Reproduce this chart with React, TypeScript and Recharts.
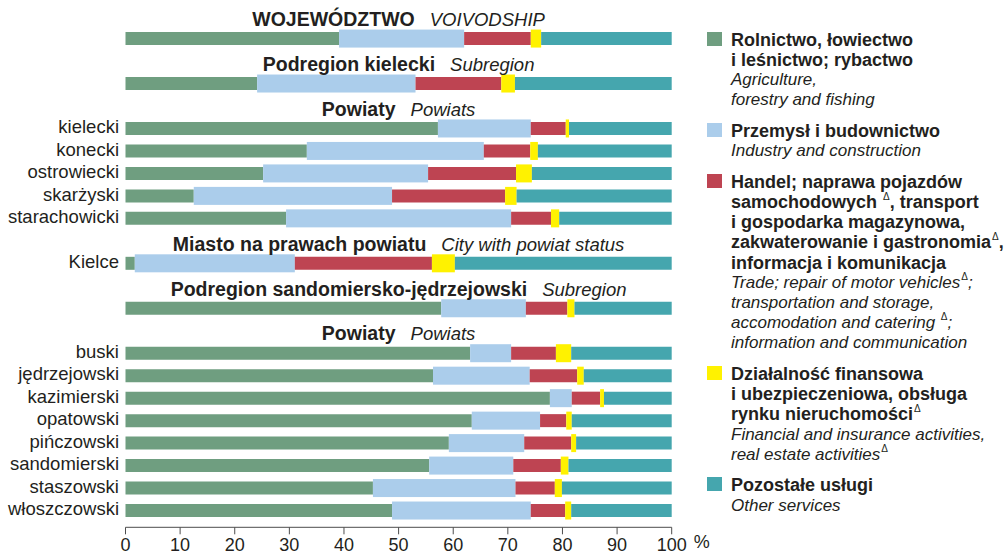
import { BarChart, Bar, XAxis, YAxis, Label } from "recharts";

// rows from top to bottom; header rows carry no values
const rowKeys = [
  "hdr-woj", "woj", "hdr-pk", "pk", "hdr-pow1",
  "kielecki", "konecki", "ostrowiecki", "skarżyski", "starachowicki",
  "hdr-miasto", "Kielce", "hdr-ps", "ps", "hdr-pow2",
  "buski", "jędrzejowski", "kazimierski", "opatowski", "pińczowski",
  "sandomierski", "staszowski", "włoszczowski",
];

const rowLabels = [
  "", "", "", "", "",
  "kielecki", "konecki", "ostrowiecki", "skarżyski", "starachowicki",
  "", "Kielce", "", "", "",
  "buski", "jędrzejowski", "kazimierski", "opatowski", "pińczowski",
  "sandomierski", "staszowski", "włoszczowski",
];

const headerMain = [
  "WOJEWÓDZTWO", "", "Podregion kielecki", "", "Powiaty",
  "", "", "", "", "",
  "Miasto na prawach powiatu", "", "Podregion sandomiersko-jędrzejowski", "", "Powiaty",
  "", "", "", "", "", "", "", "",
];

const headerSub = [
  "VOIVODSHIP", "", "Subregion", "", "Powiats",
  "", "", "", "", "",
  "City with powiat status", "", "Subregion", "", "Powiats",
  "", "", "", "", "", "", "", "",
];

const agriculture = [null, 39.1, null, 24.1, null, 57.2, 33.2, 25.2, 12.5, 29.4, null, 1.7, null, 57.8, null, 63.1, 56.3, 77.7, 63.4, 59.2, 55.6, 45.3, 48.8];
const industry = [null, 22.9, null, 29.0, null, 17.0, 32.4, 30.2, 36.3, 41.2, null, 29.3, null, 15.5, null, 7.5, 17.7, 4.0, 12.5, 13.8, 15.4, 26.1, 25.4];
const trade = [null, 12.2, null, 15.7, null, 6.4, 8.5, 16.1, 20.7, 7.3, null, 25.1, null, 7.6, null, 8.2, 8.7, 5.2, 4.8, 8.6, 8.7, 7.2, 6.3];
const finance = [null, 1.9, null, 2.5, null, 0.6, 1.4, 2.9, 2.1, 1.5, null, 4.2, null, 1.3, null, 2.8, 1.2, 0.7, 1.0, 0.9, 1.4, 1.3, 1.1];
const other = [null, 23.9, null, 28.7, null, 18.8, 24.5, 25.6, 28.4, 20.6, null, 39.7, null, 17.8, null, 18.4, 16.1, 12.4, 18.3, 17.5, 18.9, 20.1, 18.4];

const xTicks = [0, 10, 20, 30, 40, 50, 60, 70, 80, 90, 100];

const GREEN = "#6f9e80";
const BLUE = "#abcdeb";
const RED = "#be4452";
const YELLOW = "#fff200";
const TEAL = "#45a6ae";
const TEXT = "#231f20";
const FONT = "'Liberation Sans', Arial, sans-serif";

const PLOT_LEFT = 125.5;
const PLOT_WIDTH = 546.2;

const legendItems = [
  {
    color: GREEN,
    bold: ["Rolnictwo, łowiectwo", "i leśnictwo; rybactwo"],
    italic: ["Agriculture,", "forestry and fishing"],
  },
  {
    color: BLUE,
    bold: ["Przemysł i budownictwo"],
    italic: ["Industry and construction"],
  },
  {
    color: RED,
    bold: [
      "Handel; naprawa pojazdów",
      "samochodowych Δ, transport",
      "i gospodarka magazynowa,",
      "zakwaterowanie i gastronomiaΔ,",
      "informacja i komunikacja",
    ],
    italic: [
      "Trade; repair of motor vehiclesΔ;",
      "transportation and storage,",
      "accomodation and catering Δ;",
      "information and communication",
    ],
  },
  {
    color: YELLOW,
    bold: ["Działalność finansowa", "i ubezpieczeniowa, obsługa", "rynku nieruchomościΔ"],
    italic: ["Financial and insurance activities,", "real estate activitiesΔ"],
  },
  {
    color: TEAL,
    bold: ["Pozostałe usługi"],
    italic: ["Other services"],
  },
];

const data = rowKeys.map((key, i) => ({
  key,
  agriculture: agriculture[i],
  industry: industry[i],
  trade: trade[i],
  finance: finance[i],
  other: other[i],
}));

// blue and yellow segments are drawn a bit taller than the rest
function TallBar(props: any) {
  const { x, y, width, height, fill } = props;
  if (!width || !height) return null;
  return <rect x={x} y={y - 2.5} width={width} height={height + 5} fill={fill} />;
}

function RowTick(props: any) {
  const { x, y, payload } = props;
  const i = rowKeys.indexOf(payload.value);
  if (headerMain[i]) {
    return (
      <text x={PLOT_LEFT + PLOT_WIDTH / 2} y={y} dy={10} textAnchor="middle" fill={TEXT} fontFamily={FONT}>
        <tspan fontWeight="bold" fontSize={19.5}>{headerMain[i]}</tspan>
        <tspan fontStyle="italic" fontSize={18.5} dx={15}>{headerSub[i]}</tspan>
      </text>
    );
  }
  return (
    <text x={x} y={y} dy={5} textAnchor="end" fill={TEXT} fontFamily={FONT} fontSize={18.5}>
      {rowLabels[i]}
    </text>
  );
}

function WithDelta({ text }: { text: string }) {
  const parts = text.split("Δ");
  return (
    <>
      {parts.map((p, i) => (
        <span key={i}>
          {p}
          {i < parts.length - 1 && (
            <span
              style={{
                fontSize: 10,
                fontWeight: 400,
                fontStyle: "normal",
                lineHeight: 0,
                position: "relative",
                top: -8,
                marginLeft: 1,
              }}
            >
              Δ
            </span>
          )}
        </span>
      ))}
    </>
  );
}

function SectorLegend() {
  return (
    <div style={{ position: "absolute", left: 707, top: 29.7, fontFamily: FONT, color: TEXT }}>
      {legendItems.map((item, i) => (
        <div key={i} style={{ position: "relative", paddingLeft: 24, marginBottom: 10.5 }}>
          <div style={{ position: "absolute", left: 0, top: 2, width: 15, height: 14, background: item.color }} />
          {item.bold.map((line, j) => (
            <div key={"b" + j} style={{ fontWeight: "bold", fontSize: 18, lineHeight: "20.2px", height: 20.2, whiteSpace: "nowrap" }}>
              <WithDelta text={line} />
            </div>
          ))}
          {item.italic.map((line, j) => (
            <div key={"i" + j} style={{ fontStyle: "italic", fontSize: 17, lineHeight: "20.2px", height: 20.2, whiteSpace: "nowrap" }}>
              <WithDelta text={line} />
            </div>
          ))}
        </div>
      ))}
    </div>
  );
}

export default function App() {
  return (
    <div style={{ position: "absolute", left: 0, top: 0, width: 1006, height: 555, background: "#fff" }}>
      <BarChart
        width={1006}
        height={555}
        data={data}
        layout="vertical"
        barSize={13}
        margin={{ top: 4.6, right: 1006 - PLOT_LEFT - PLOT_WIDTH, bottom: 0, left: PLOT_LEFT - 120 }}
        style={{ fontFamily: FONT }}
      >
        <XAxis
          type="number"
          domain={[0, 100]}
          ticks={xTicks}
          height={27.7}
          tickSize={7}
          tickMargin={4}
          axisLine={{ stroke: "#4d4d4d" }}
          tickLine={{ stroke: "#4d4d4d" }}
          tick={{ fill: TEXT, fontSize: 18, fontFamily: FONT }}
        >
          <Label value="%" position="right" offset={22} fill={TEXT} fontSize={18} fontFamily={FONT} />
        </XAxis>
        <YAxis
          type="category"
          dataKey="key"
          width={120}
          interval={0}
          axisLine={false}
          tickLine={false}
          tickSize={0}
          tickMargin={6.5}
          padding={{ top: 0, bottom: 5.8 }}
          tick={<RowTick />}
        />
        <Bar dataKey="agriculture" stackId="s" fill={GREEN} isAnimationActive={false} />
        <Bar dataKey="industry" stackId="s" fill={BLUE} shape={<TallBar />} isAnimationActive={false} />
        <Bar dataKey="trade" stackId="s" fill={RED} isAnimationActive={false} />
        <Bar dataKey="finance" stackId="s" fill={YELLOW} shape={<TallBar />} isAnimationActive={false} />
        <Bar dataKey="other" stackId="s" fill={TEAL} isAnimationActive={false} />
      </BarChart>
      <SectorLegend />
    </div>
  );
}
